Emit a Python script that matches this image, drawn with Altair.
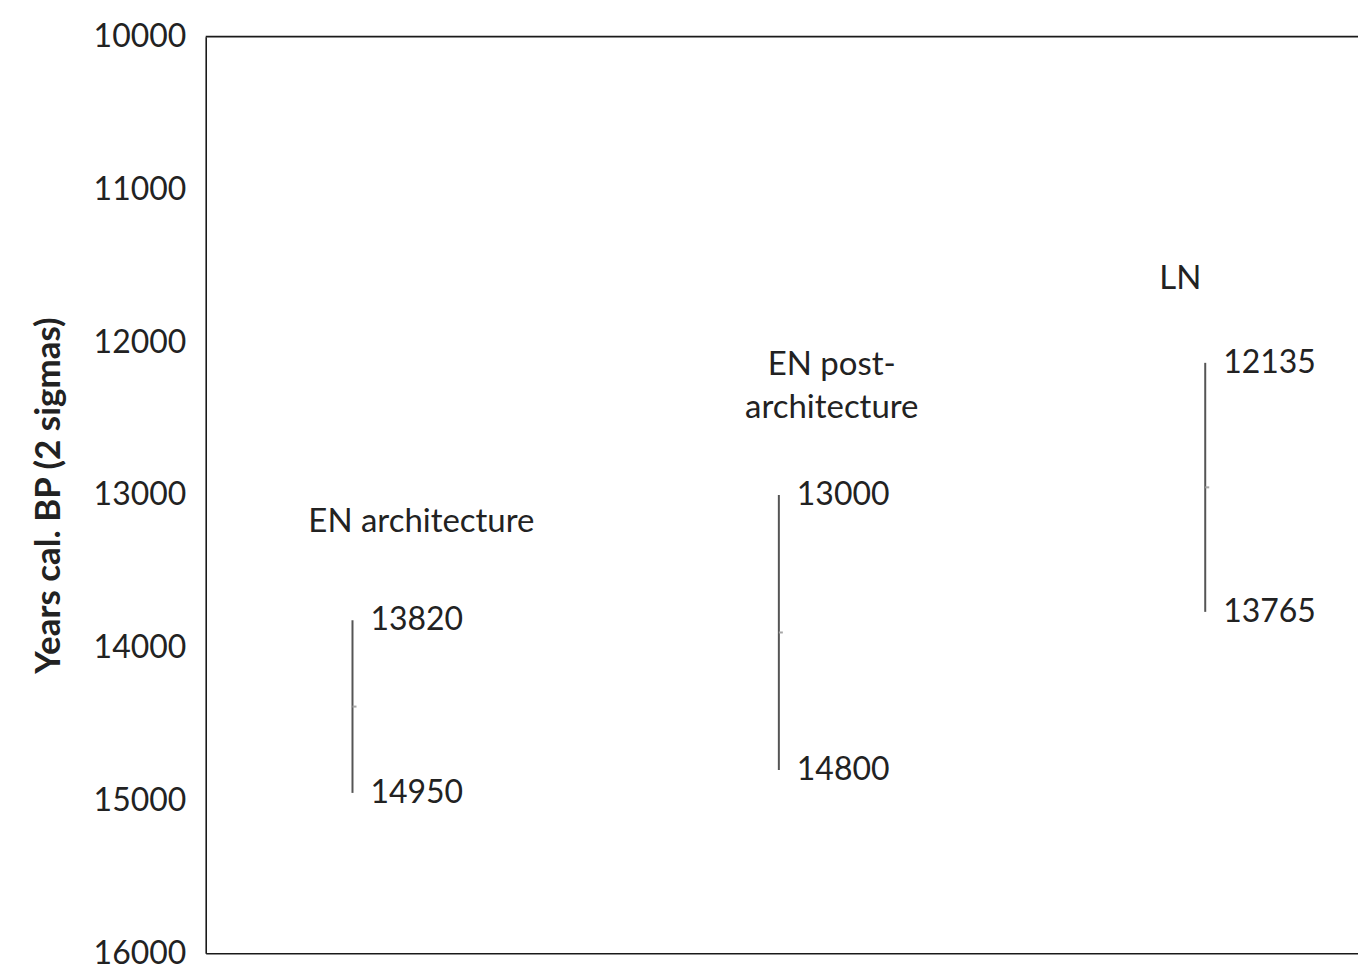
import altair as alt
import pandas as pd

# ---- data ----
categories = ["EN architecture", "EN post-architecture", "LN"]
range_low = [13820, 13000, 12135]     # upper end of the range (younger)
range_high = [14950, 14800, 13765]    # lower end of the range (older)
range_mid = [14385, 13900, 12950]     # small midpoint marker
y_ticks = [10000, 11000, 12000, 13000, 14000, 15000, 16000]

# ---- layout for the category labels (position of each text) ----
label_lines = [["EN architecture"], ["EN post-", "architecture"], ["LN"]]
label_year = [13180, 12150, 11585]
label_dx = [69, 53, -25]

df = pd.DataFrame({
    "idx": list(range(len(categories))),
    "cat": categories,
    "low": range_low,
    "high": range_high,
    "mid": range_mid,
    "low_txt": [str(v) for v in range_low],
    "high_txt": [str(v) for v in range_high],
})
lab = pd.DataFrame({
    "idx": list(range(len(categories))),
    "text": label_lines,
    "year": label_year,
    "dx": label_dx,
})

FONT = "Lato"
TXT = "#222222"

W, H = 1154, 918
xscale = alt.Scale(domain=[-147 / 427, (W - 147) / 427], nice=False, zero=False)
yscale = alt.Scale(domain=[10000, 16000], reverse=True, nice=False, zero=False)

x_enc = alt.X("idx:Q", scale=xscale,
              axis=alt.Axis(labels=False, ticks=False, grid=False, title=None,
                            domainColor="#1a1a1a", domainWidth=1.6))
y_axis = alt.Axis(values=y_ticks, format="d", grid=False, ticks=False,
                  labelFont=FONT, labelFontSize=32, labelColor=TXT, labelPadding=20,
                  domainColor="#1a1a1a", domainWidth=1.6,
                  title="Years cal. BP (2 sigmas)", titleFont=FONT, titleFontSize=35,
                  titleFontWeight="bold", titleColor=TXT, titlePadding=27)

base = alt.Chart(df)

bars = base.mark_rule(color="#555555", strokeWidth=2).encode(
    x=x_enc,
    y=alt.Y("low:Q", scale=yscale, axis=y_axis),
    y2="high:Q",
)

mids = base.mark_rule(color="#a6a6a6", strokeWidth=2, x2Offset=4).encode(
    x="idx:Q", x2="idx:Q", y=alt.Y("mid:Q", scale=yscale),
)

low_txt = base.mark_text(align="left", baseline="middle", dx=18, font=FONT,
                         fontSize=32, color=TXT).encode(
    x="idx:Q", y=alt.Y("low:Q", scale=yscale), text="low_txt:N")
high_txt = base.mark_text(align="left", baseline="middle", dx=18, font=FONT,
                          fontSize=32, color=TXT).encode(
    x="idx:Q", y=alt.Y("high:Q", scale=yscale), text="high_txt:N")

top_line = alt.Chart(pd.DataFrame({"y": [y_ticks[0]]})).mark_rule(
    color="#1a1a1a", strokeWidth=1.6).encode(y=alt.Y("y:Q", scale=yscale))

labels = []
for i in range(len(categories)):
    labels.append(
        alt.Chart(lab.iloc[[i]]).mark_text(
            align="center", baseline="middle", font=FONT, fontSize=33,
            color=TXT, lineHeight=43, dx=label_dx[i]).encode(
            x="idx:Q", y=alt.Y("year:Q", scale=yscale), text="text"))

chart = alt.layer(top_line, bars, mids, low_txt, high_txt, *labels).properties(
    width=W, height=H,
    padding={"left": 198, "top": 28, "right": 0, "bottom": 12},
    autosize=alt.AutoSizeParams(type="none"),
).configure_view(stroke=None)

chart.save("out.html", embed_options={"renderer": "svg", "actions": False})
